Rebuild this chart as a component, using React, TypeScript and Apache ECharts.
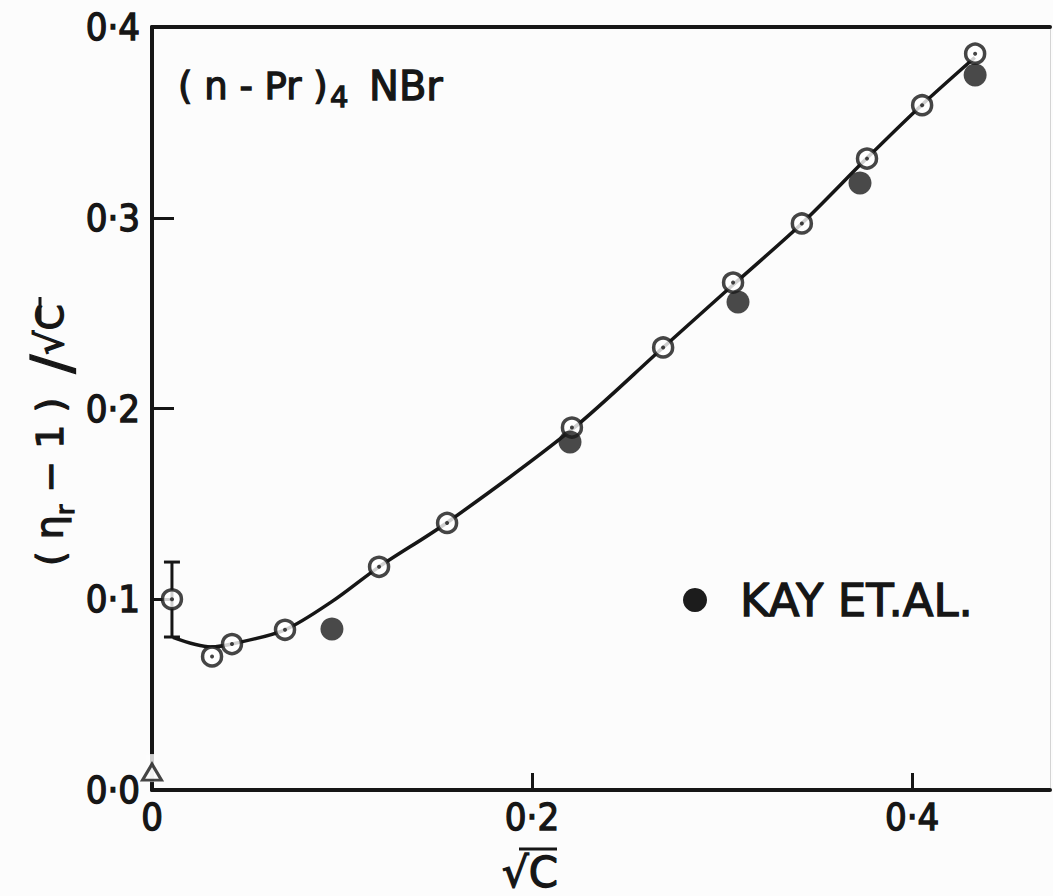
import React, { useEffect, useRef } from 'react';
import * as echarts from 'echarts';

// Open circles (this work)
const openX = [0.0105, 0.0316, 0.0421, 0.070, 0.1195, 0.1553, 0.221, 0.269, 0.3058, 0.342, 0.3763, 0.4053, 0.4332];
const openY = [0.100, 0.070, 0.0765, 0.084, 0.117, 0.140, 0.190, 0.232, 0.266, 0.297, 0.331, 0.359, 0.386];
// Filled circles (Kay et al.)
const kayX = [0.0947, 0.220, 0.3084, 0.3726, 0.4332];
const kayY = [0.0844, 0.1824, 0.2558, 0.3182, 0.3748];
// Fitted curve as drawn
const curveX = [0.011, 0.031, 0.042, 0.070, 0.095, 0.1195, 0.155, 0.221, 0.269, 0.306, 0.342, 0.376, 0.405, 0.433];
const curveY = [0.080, 0.075, 0.0765, 0.084, 0.099, 0.117, 0.140, 0.189, 0.232, 0.265, 0.297, 0.331, 0.359, 0.384];
// Error bar on first point
const errX = [0.0105];
const errLow = [0.0802];
const errHigh = [0.1195];
// Triangle at origin
const triX = [0];
const triY = [0.0094];

const X_MIN = 0;
const X_MAX = 0.4726;
const Y_MIN = 0;
const Y_MAX = 0.4;
const X_STEP = 0.2;
const Y_STEP = 0.1;

const INK = '#161616';
const BG = '#fcfcfc';
const TICK_FONT = "'DejaVu Sans Condensed', 'Liberation Sans Narrow', 'DejaVu Sans', sans-serif";
const TEXT_FONT = "'DejaVu Sans', sans-serif";
const THICK = 1.3;

const fmt = (v: number) => (v === 0 ? '0' : v.toFixed(1).replace('.', '\u00B7'));
const fmtY = (v: number) => v.toFixed(1).replace('.', '\u00B7');

export default function App() {
  const ref = useRef<HTMLDivElement>(null);
  useEffect(() => {
    document.body.style.margin = '0';
    if (!ref.current) return;
    const chart = echarts.init(ref.current, undefined, { renderer: 'svg' });
    const zip = (a: number[], b: number[]) => a.map((v, i) => [v, b[i]]);
    const txt = (extra: any) => ({ fill: INK, stroke: INK, lineWidth: THICK, fontFamily: TEXT_FONT, ...extra });
    chart.setOption({
      animation: false,
      backgroundColor: BG,
      grid: { left: 152, right: 3, top: 27, bottom: 106, containLabel: false },
      xAxis: [
        {
          type: 'value', min: X_MIN, max: X_MAX, interval: X_STEP,
          axisLine: { show: true, onZero: false, lineStyle: { color: INK, width: 4 } },
          axisTick: { show: true, inside: true, length: 17, lineStyle: { color: INK, width: 3 } },
          axisLabel: {
            show: true, formatter: fmt, color: INK, fontSize: 38, fontFamily: TICK_FONT, margin: 8,
            showMaxLabel: false, textBorderColor: INK, textBorderWidth: THICK,
          },
          splitLine: { show: false },
        },
        {
          type: 'value', position: 'top', min: X_MIN, max: X_MAX,
          axisLine: { show: true, onZero: false, lineStyle: { color: INK, width: 4 } },
          axisTick: { show: false }, axisLabel: { show: false }, splitLine: { show: false },
        },
      ],
      yAxis: [
        {
          type: 'value', min: Y_MIN, max: Y_MAX, interval: Y_STEP,
          axisLine: { show: true, onZero: false, lineStyle: { color: INK, width: 4 } },
          axisTick: { show: true, inside: true, length: 22, lineStyle: { color: INK, width: 3 } },
          axisLabel: {
            show: true, formatter: fmtY, color: INK, fontSize: 38, fontFamily: TICK_FONT, margin: 12,
            textBorderColor: INK, textBorderWidth: THICK,
          },
          splitLine: { show: false },
        },
        {
          type: 'value', position: 'right', min: Y_MIN, max: Y_MAX,
          axisLine: { show: true, onZero: false, lineStyle: { color: '#d4d4d4', width: 1 } },
          axisTick: { show: false }, axisLabel: { show: false }, splitLine: { show: false },
        },
      ],
      series: [
        {
          name: 'curve', type: 'line', data: zip(curveX, curveY), smooth: 0.3,
          showSymbol: false, symbol: 'none', lineStyle: { color: INK, width: 3.5 }, z: 3,
        },
        {
          name: 'error', type: 'custom', z: 3,
          data: errX.map((x, i) => [x, errLow[i], errHigh[i]]),
          renderItem: (params: any, api: any) => {
            const x = api.value(0);
            const lo = api.coord([x, api.value(1)]);
            const hi = api.coord([x, api.value(2)]);
            const w = 8;
            const st = { stroke: INK, lineWidth: 3 };
            return {
              type: 'group',
              children: [
                { type: 'line', shape: { x1: lo[0], y1: lo[1], x2: hi[0], y2: hi[1] }, style: st },
                { type: 'line', shape: { x1: hi[0] - w, y1: hi[1], x2: hi[0] + w, y2: hi[1] }, style: st },
                { type: 'line', shape: { x1: lo[0] - w, y1: lo[1], x2: lo[0] + w, y2: lo[1] }, style: st },
              ],
            };
          },
        },
        {
          name: 'axis gap', type: 'scatter', data: [[0, 0.0115]], symbol: 'rect', symbolSize: [12, 28],
          itemStyle: { color: BG }, z: 4, clip: false, silent: true,
        },
        {
          name: 'origin', type: 'scatter', data: zip(triX, triY), symbol: 'triangle', symbolSize: [19, 16],
          itemStyle: { color: BG, borderColor: INK, borderWidth: 3 }, z: 5, clip: false,
        },
        {
          name: 'this work', type: 'scatter', data: zip(openX, openY), symbol: 'circle', symbolSize: 19,
          itemStyle: { color: '#ffffff', borderColor: INK, borderWidth: 3.5 }, z: 5, clip: false,
        },
        {
          name: 'this work centre', type: 'scatter', data: zip(openX, openY), symbol: 'circle', symbolSize: 4,
          itemStyle: { color: INK }, z: 6, clip: false, silent: true,
        },
        {
          name: 'KAY ET.AL.', type: 'scatter', data: zip(kayX, kayY), symbol: 'circle', symbolSize: 23,
          itemStyle: { color: '#1c1c1c' }, z: 7, clip: false,
        },
      ],
      graphic: [
        // compound label
        { type: 'text', x: 178, y: 86, style: txt({ text: '( n - Pr )', fontSize: 37, textVerticalAlign: 'middle' }) },
        { type: 'text', x: 330, y: 97, style: txt({ text: '4', fontSize: 29, textVerticalAlign: 'middle' }) },
        { type: 'text', x: 369, y: 86, style: txt({ text: 'NBr', fontSize: 40, textVerticalAlign: 'middle' }) },
        // legend
        { type: 'circle', shape: { cx: 695, cy: 600, r: 12 }, style: { fill: '#1c1c1c' } },
        { type: 'text', x: 740, y: 600, style: txt({ text: 'KAY ET.AL.', fontSize: 45, textVerticalAlign: 'middle' }) },
        // x axis title
        { type: 'text', x: 530, y: 872, style: txt({ text: '\u221AC', fontSize: 42, textAlign: 'center', textVerticalAlign: 'middle' }) },
        { type: 'line', shape: { x1: 519, y1: 849, x2: 557, y2: 849 }, style: { stroke: INK, lineWidth: 3 } },
        // y axis title (rotated)
        {
          type: 'text', x: 50, y: 435, rotation: Math.PI / 2,
          style: txt({
            text: '( \u03B7{s|r} \u2212 1 )  {sl|/}\u221AC',
            fontSize: 38, textAlign: 'center', textVerticalAlign: 'middle',
            rich: {
              s: { fontSize: 25, fontFamily: TEXT_FONT, fill: INK, stroke: INK, lineWidth: THICK, verticalAlign: 'bottom', lineHeight: 46 },
              sl: { fontSize: 56, fontFamily: TEXT_FONT, fill: INK, stroke: INK, lineWidth: THICK },
            },
          }),
        },
        { type: 'line', shape: { x1: 40, y1: 297, x2: 40, y2: 323 }, style: { stroke: INK, lineWidth: 3 } },
      ],
    });
    return () => chart.dispose();
  }, []);
  return <div ref={ref} style={{ width: 1053, height: 896 }} />;
}
